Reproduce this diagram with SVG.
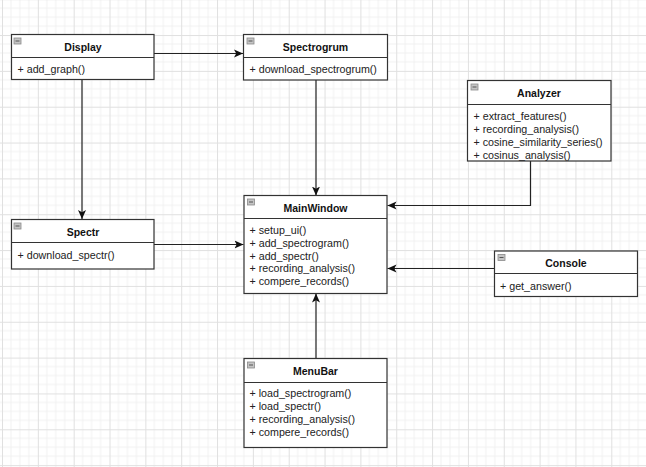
<svg xmlns="http://www.w3.org/2000/svg" width="646" height="467" viewBox="0 0 646 467">
<defs>
<pattern id="grid" patternUnits="userSpaceOnUse" x="2" y="-0.8" width="35.84" height="35.84">
<path d="M8.96,0V35.84M17.92,0V35.84M26.88,0V35.84M0,8.96H35.84M0,17.92H35.84M0,26.88H35.84" stroke="#f1f1f1" stroke-width="1" fill="none"/>
<path d="M0.5,0V35.84M0,0.5H35.84" stroke="#e0e0e0" stroke-width="1" fill="none"/>
</pattern>
<marker id="arr" markerUnits="userSpaceOnUse" markerWidth="10" markerHeight="9" refX="9" refY="4.5" orient="auto">
<path d="M0,0.5 L9,4.5 L0,8.5 L2.2,4.5 Z" fill="#111"/>
</marker>
<g id="icon">
<rect x="0" y="0" width="7" height="6" fill="#c4c4c4" stroke="#8a8a8a" stroke-width="0.8"/>
<path d="M1.5,3H5.5" stroke="#555" stroke-width="1"/>
</g>
</defs>
<style>
.box{fill:#fff;stroke:#333;stroke-width:1.2}
.div{stroke:#333;stroke-width:1.2}
.title{font-family:"Liberation Sans",Arial,sans-serif;font-weight:bold;font-size:10.5px;fill:#111;text-anchor:middle}
.m{font-family:"Liberation Sans",Arial,sans-serif;font-size:10.7px;fill:#222}
.conn{fill:none;stroke:#222;stroke-width:1.2;marker-end:url(#arr)}
</style>
<rect width="646" height="467" fill="#fff"/>
<rect width="646" height="467" fill="url(#grid)"/>

<g id="connectors">
<path class="conn" d="M154,53.5H243"/>
<path class="conn" d="M82,80V219"/>
<path class="conn" d="M316,80V195.5"/>
<path class="conn" d="M154,244.5H243.5"/>
<path class="conn" d="M530.5,161V205.5H387.5"/>
<path class="conn" d="M494,268.5H387.5"/>
<path class="conn" d="M316,358V293.5"/>
</g>

<g id="Display">
<rect class="box" x="11.5" y="34.5" width="142.5" height="45"/>
<path class="div" d="M11.5,57.5H154"/>
<use href="#icon" x="14" y="38"/>
<text class="title" x="83" y="50.5">Display</text>
<text class="m" x="17.5" y="73">+ add_graph()</text>
</g>

<g id="Spectrogrum">
<rect class="box" x="243.5" y="34.5" width="144" height="45.5"/>
<path class="div" d="M243.5,57.5H387.5"/>
<use href="#icon" x="247" y="38"/>
<text class="title" x="315.5" y="50.5">Spectrogrum</text>
<text class="m" x="249.5" y="73">+ download_spectrogrum()</text>
</g>

<g id="Analyzer">
<rect class="box" x="467.5" y="80.5" width="143.5" height="80.5"/>
<path class="div" d="M467.5,104.5H611"/>
<use href="#icon" x="471" y="84"/>
<text class="title" x="539" y="97">Analyzer</text>
<text class="m" x="473.5" y="120.2">+ extract_features()</text>
<text class="m" x="473.5" y="133.1">+ recording_analysis()</text>
<text class="m" x="473.5" y="146">+ cosine_similarity_series()</text>
<text class="m" x="473.5" y="158.9">+ cosinus_analysis()</text>
</g>

<g id="Spectr">
<rect class="box" x="11.5" y="219.5" width="142.5" height="49.5"/>
<path class="div" d="M11.5,242.5H154"/>
<use href="#icon" x="14" y="223"/>
<text class="title" x="83" y="235.5">Spectr</text>
<text class="m" x="17.5" y="259">+ download_spectr()</text>
</g>

<g id="MainWindow">
<rect class="box" x="244" y="195.5" width="143" height="98"/>
<path class="div" d="M244,218.5H387"/>
<use href="#icon" x="247.5" y="199"/>
<text class="title" x="315.5" y="211.5">MainWindow</text>
<text class="m" x="249.5" y="233.7">+ setup_ui()</text>
<text class="m" x="249.5" y="246.6">+ add_spectrogram()</text>
<text class="m" x="249.5" y="259.5">+ add_spectr()</text>
<text class="m" x="249.5" y="272.4">+ recording_analysis()</text>
<text class="m" x="249.5" y="285.3">+ compere_records()</text>
</g>

<g id="Console">
<rect class="box" x="494.5" y="251" width="143" height="45.5"/>
<path class="div" d="M494.5,273.5H637.5"/>
<use href="#icon" x="498" y="254.5"/>
<text class="title" x="566" y="267">Console</text>
<text class="m" x="500" y="290">+ get_answer()</text>
</g>

<g id="MenuBar">
<rect class="box" x="244" y="358.5" width="143" height="89"/>
<path class="div" d="M244,382.5H387"/>
<use href="#icon" x="247.5" y="362"/>
<text class="title" x="315.5" y="374.5">MenuBar</text>
<text class="m" x="249.5" y="397.2">+ load_spectrogram()</text>
<text class="m" x="249.5" y="410.1">+ load_spectr()</text>
<text class="m" x="249.5" y="423">+ recording_analysis()</text>
<text class="m" x="249.5" y="435.9">+ compere_records()</text>
</g>
</svg>
